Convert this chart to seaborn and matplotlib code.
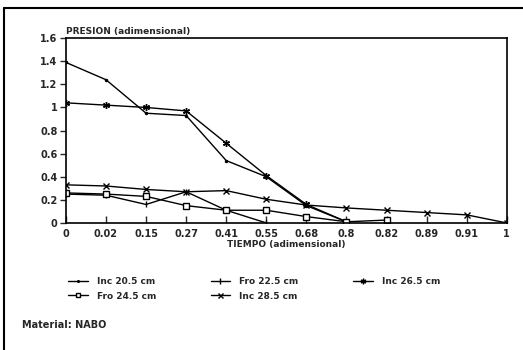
import numpy as np
import pandas as pd
import seaborn as sns
from matplotlib import pyplot as plt
from matplotlib.lines import Line2D

# tiempo adimensional (eje x categorico)
tiempo = ["0", "0.02", "0.15", "0.27", "0.41", "0.55", "0.68", "0.8", "0.82", "0.89", "0.91", "1"]

series = ["Inc 20.5 cm", "Fro 22.5 cm", "Inc 26.5 cm", "Fro 24.5 cm", "Inc 28.5 cm"]
inc_205 = [1.39, 1.24, 0.95, 0.93, 0.54, 0.40, 0.15, 0.01]
fro_225 = [0.25, 0.24, 0.16, 0.27, 0.11, 0.0]
inc_265 = [1.04, 1.02, 1.00, 0.97, 0.69, 0.41, 0.16, 0.01]
fro_245 = [0.26, 0.25, 0.23, 0.15, 0.11, 0.11, 0.055, 0.01, 0.025]
inc_285 = [0.33, 0.32, 0.29, 0.27, 0.28, 0.205, 0.155, 0.13, 0.11, 0.09, 0.07, 0.0]

valores = [inc_205, fro_225, inc_265, fro_245, inc_285]
marcadores = [".", "|", (6, 2, 0), "s", "x"]
tamanos = [3, 5, 5, 4, 4.5]

sns.set_style("white")
plt.rcParams["font.family"] = ["DejaVu Sans"]
plt.rcParams["font.weight"] = "bold"

fig = plt.figure(figsize=(5.23, 3.5), dpi=100)
ax = fig.add_axes([0.126, 0.363, 0.843, 0.528])

for nombre, vals, m, ms in zip(series, valores, marcadores, tamanos):
    df = pd.DataFrame({"pos": np.arange(len(vals)), "valor": vals})
    sns.lineplot(data=df, x="pos", y="valor", ax=ax, color="black", lw=1.0,
                 marker=m, markersize=ms,
                 markerfacecolor="white" if m == "s" else "black",
                 markeredgecolor="black", markeredgewidth=1.0, label=nombre)

ax.set_xlim(0, len(tiempo) - 1)
ax.set_ylim(0, 1.6)
ax.set_xticks(np.arange(len(tiempo)))
ax.set_xticklabels(tiempo)
yt = np.arange(0, 1.61, 0.2)
ax.set_yticks(yt)
ax.set_yticklabels([f"{v:g}" for v in yt])
ax.tick_params(axis="x", direction="in", length=5, width=1, labelsize=7, pad=4,
               bottom=True)
ax.tick_params(axis="y", direction="out", length=4, width=1, labelsize=7, pad=2,
               left=True)
for s in ax.spines.values():
    s.set_color("black")
    s.set_linewidth(1.2)

ax.set_xlabel("TIEMPO (adimensional)", fontsize=6.5, fontweight="bold", labelpad=1)
ax.set_ylabel("")
ax.text(0.0, 1.012, "PRESION (adimensional)", transform=ax.transAxes,
        fontsize=6.5, fontweight="bold", va="bottom", ha="left")

h, l = ax.get_legend_handles_labels()
orden = [0, 3, 1, 4, 2]
ax.legend([h[i] for i in orden], [l[i] for i in orden], ncol=3,
          loc="upper left", bbox_to_anchor=(60 / 523, 1 - 269 / 350),
          bbox_transform=fig.transFigure, frameon=False, fontsize=6.5,
          handlelength=2.2, handletextpad=1.0, columnspacing=6.0,
          labelspacing=0.6, markerscale=0.8)

fig.text(22 / 523, 1 - 325 / 350, "Material: NABO", fontsize=7,
         fontweight="bold", va="center", ha="left")

# marco exterior
fig.add_artist(Line2D([4 / 523, 4 / 523], [0, 1 - 8 / 350], color="black", lw=1.5,
                      transform=fig.transFigure))
fig.add_artist(Line2D([4 / 523, 1], [1 - 8 / 350, 1 - 8 / 350], color="black", lw=1.5,
                      transform=fig.transFigure))

fig.savefig("out.png", dpi=100)
